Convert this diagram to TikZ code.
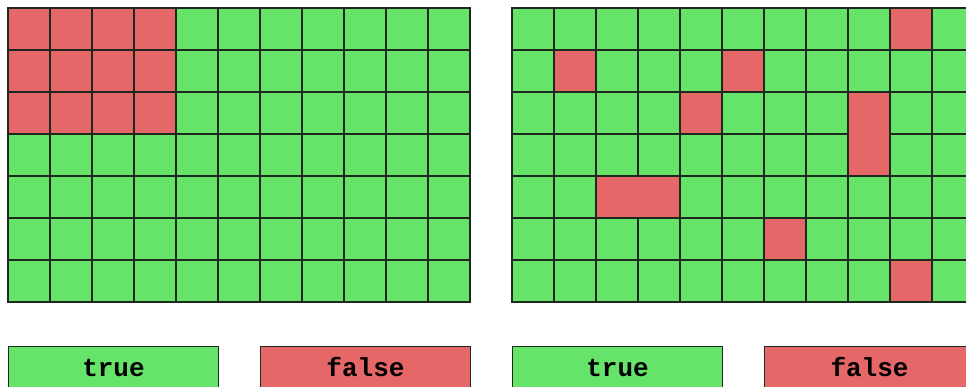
\documentclass[tikz,border=0pt]{standalone}
\usepackage{fontspec}
\newfontfamily\monob{Liberation Mono}[BoldFont={Liberation Mono Bold}]
\definecolor{tgreen}{RGB}{102,228,106}
\definecolor{fred}{RGB}{229,103,104}
\definecolor{gline}{RGB}{30,40,30}
\tikzset{
  cell/.style={draw=gline, line width=1.2pt, minimum width=42pt, minimum height=42pt, inner sep=0pt, outer sep=0pt, anchor=north west},
  legbox/.style={draw=gline, line width=1pt, minimum width=210pt, minimum height=42pt, inner sep=0pt, anchor=north west, font=\monob\bfseries\fontsize{26}{26}\selectfont},
}
\begin{document}
\begin{tikzpicture}[x=1pt,y=-1pt]
\useasboundingbox (0,0) rectangle (966,387);
\clip (0,0) rectangle (966,387);
% left grid
\foreach \r in {0,...,6}{
  \foreach \c in {0,...,10}{
    \node[cell, fill=tgreen] (L-\r-\c) at ({8+42*\c},{8+42*\r}) {};
  }
}
\foreach \r in {0,1,2}{
  \foreach \c in {0,...,3}{
    \node[cell, fill=fred] (LR-\r-\c) at ({8+42*\c},{8+42*\r}) {};
  }
}
% right grid
\foreach \r in {0,...,6}{
  \foreach \c in {0,...,10}{
    \node[cell, fill=tgreen] (R-\r-\c) at ({512+42*\c},{8+42*\r}) {};
  }
}
\node[cell, fill=fred] (RR1) at ({512+42*9},{8+42*0}) {};
\node[cell, fill=fred] (RR2) at ({512+42*1},{8+42*1}) {};
\node[cell, fill=fred] (RR3) at ({512+42*5},{8+42*1}) {};
\node[cell, fill=fred] (RR4) at ({512+42*4},{8+42*2}) {};
\node[cell, fill=fred, minimum height=84pt] (RR5) at ({512+42*8},{8+42*2}) {};
\node[cell, fill=fred, minimum width=84pt] (RR6) at ({512+42*2},{8+42*4}) {};
\node[cell, fill=fred] (RR7) at ({512+42*6},{8+42*5}) {};
\node[cell, fill=fred] (RR8) at ({512+42*9},{8+42*6}) {};
% legends
\node[legbox, fill=tgreen] (LT) at (8,346) {\raisebox{-3pt}{true}};
\node[legbox, fill=fred] (LF) at (260,346) {\raisebox{-3pt}{false}};
\node[legbox, fill=tgreen] (RT) at (512,346) {\raisebox{-3pt}{true}};
\node[legbox, fill=fred] (RF) at (764,346) {\raisebox{-3pt}{false}};
\end{tikzpicture}
\end{document}
